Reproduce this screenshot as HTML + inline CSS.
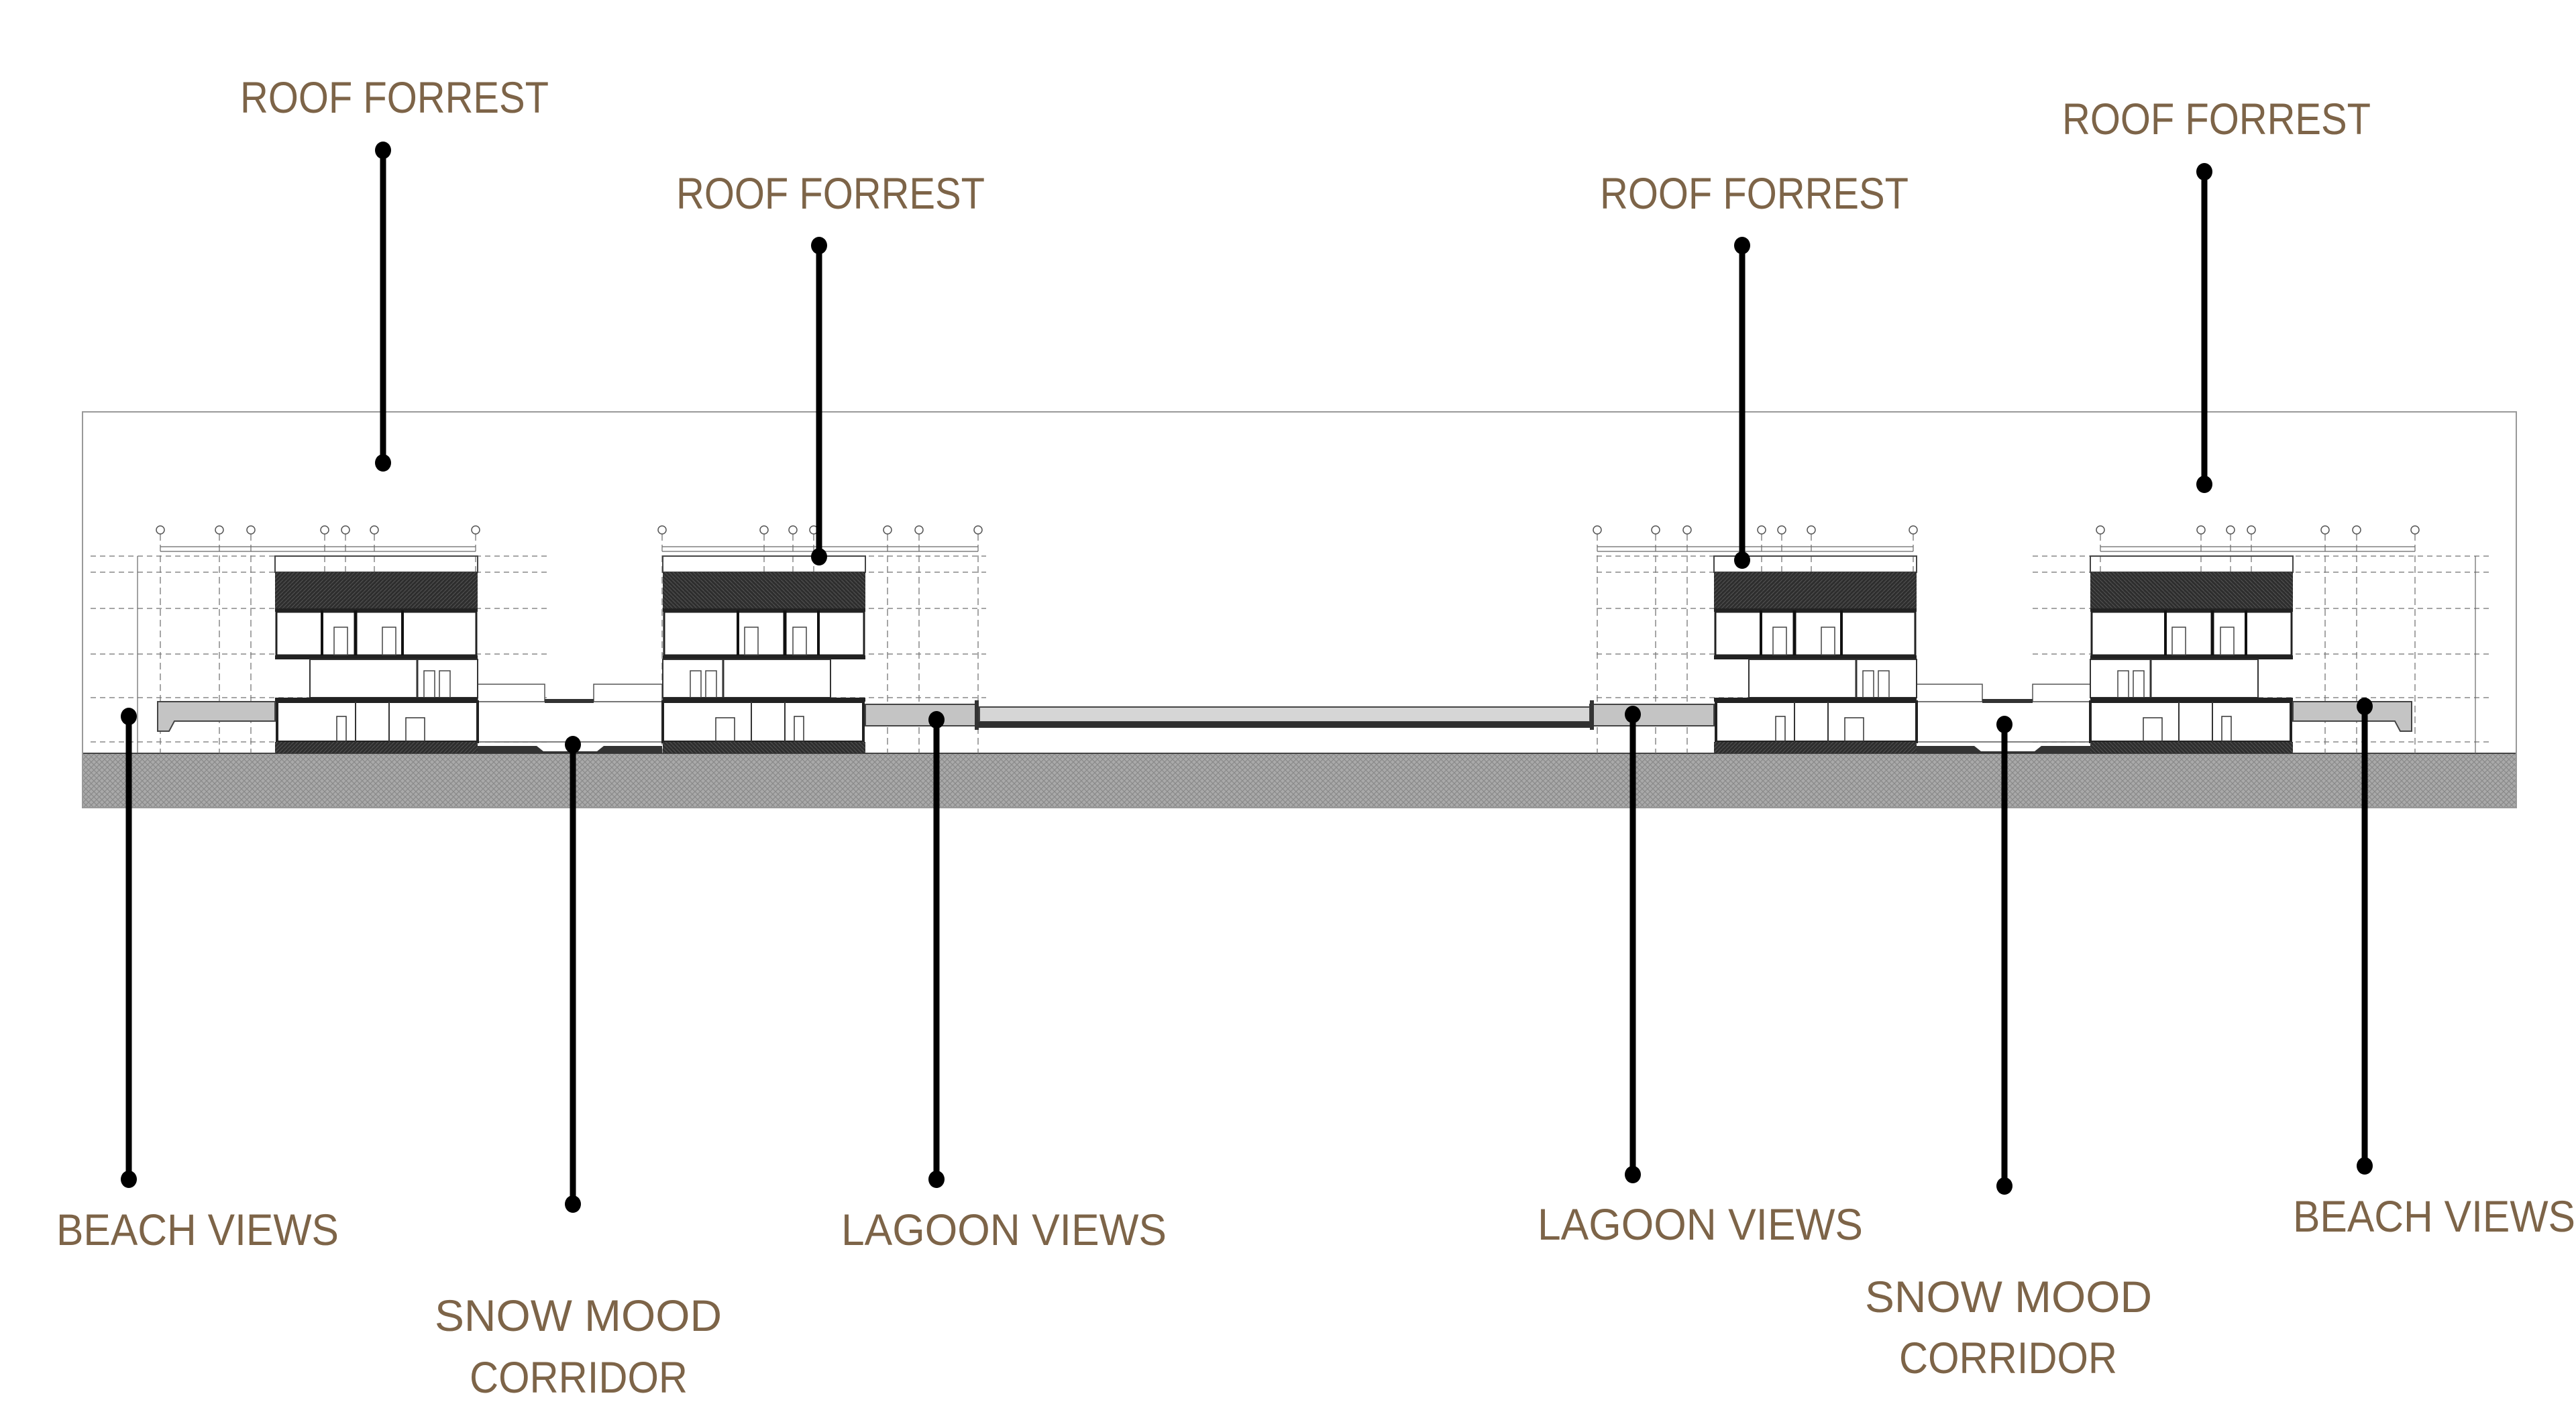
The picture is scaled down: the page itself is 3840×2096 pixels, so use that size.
<!DOCTYPE html>
<html><head><meta charset="utf-8"><style>
html,body{margin:0;padding:0;background:#fff;}
svg{display:block}
text{font-family:"Liberation Sans",sans-serif;font-size:66px;fill:#7d6448;}
</style></head><body>
<svg width="3840" height="2096" viewBox="0 0 3840 2096" xmlns="http://www.w3.org/2000/svg">
<defs>
<pattern id="hatch" width="8" height="8" patternUnits="userSpaceOnUse">
<rect width="8" height="8" fill="#a9a9a9"/>
<path d="M0 8L8 0M0 0L8 8" stroke="#8a8a8a" stroke-width="1.2"/>
</pattern>
<pattern id="dark" width="6" height="6" patternUnits="userSpaceOnUse">
<rect width="6" height="6" fill="#2e2e2e"/>
<path d="M0 6L6 0" stroke="#555" stroke-width="1"/>
</pattern>
<g id="bld">
<!-- parapet -->
<rect x="0" y="829" width="302" height="24" fill="none" stroke="#444" stroke-width="2"/>
<rect x="0" y="853" width="302" height="54" fill="url(#dark)"/>
<rect x="0" y="907" width="302" height="5" fill="#222"/>
<!-- upper floor -->
<rect x="2" y="912" width="298" height="65" fill="#fff" stroke="#222" stroke-width="3"/>
<line x1="70" y1="910" x2="70" y2="977" stroke="#111" stroke-width="4"/>
<line x1="120" y1="910" x2="120" y2="977" stroke="#111" stroke-width="5"/>
<line x1="190" y1="910" x2="190" y2="977" stroke="#111" stroke-width="4"/>
<rect x="88" y="935" width="20" height="42" fill="none" stroke="#444" stroke-width="1.5"/>
<rect x="160" y="935" width="20" height="42" fill="none" stroke="#444" stroke-width="1.5"/>
<rect x="0" y="977" width="302" height="6" fill="#222"/>
<!-- middle floor -->
<rect x="52" y="983" width="250" height="57" fill="#fff" stroke="#333" stroke-width="2"/>
<line x1="212" y1="983" x2="212" y2="1040" stroke="#333" stroke-width="3"/>
<rect x="222" y="1000" width="16" height="40" fill="none" stroke="#444" stroke-width="1.5"/>
<rect x="245" y="1000" width="16" height="40" fill="none" stroke="#444" stroke-width="1.5"/>
<rect x="0" y="1040" width="302" height="6" fill="#222"/>
<!-- ground floor -->
<rect x="3" y="1046" width="299" height="60" fill="#fff" stroke="#222" stroke-width="4"/>
<line x1="120" y1="1046" x2="120" y2="1106" stroke="#333" stroke-width="2"/>
<line x1="170" y1="1046" x2="170" y2="1106" stroke="#333" stroke-width="2"/>
<rect x="195" y="1070" width="28" height="36" fill="none" stroke="#333" stroke-width="1.5"/>
<rect x="92" y="1068" width="14" height="38" fill="none" stroke="#333" stroke-width="1.5"/>
<rect x="0" y="1106" width="302" height="17" fill="url(#dark)"/>
</g>
<g id="grid">
<g stroke="#555" stroke-width="1.3" fill="#fff">
<circle cx="0" cy="790" r="6"/>
</g>
</g>
</defs>

<!-- frame -->
<rect x="123" y="614" width="3628" height="590" fill="none" stroke="#999" stroke-width="2"/>
<!-- ground -->
<rect x="124" y="1123" width="3626" height="80" fill="url(#hatch)"/>
<line x1="124" y1="1123" x2="3750" y2="1123" stroke="#444" stroke-width="2"/>

<!-- level dashed lines -->
<g stroke="#888" stroke-width="1.5" stroke-dasharray="8 6">
<line x1="135" y1="829" x2="820" y2="829"/><line x1="135" y1="853" x2="820" y2="853"/>
<line x1="135" y1="907" x2="820" y2="907"/><line x1="135" y1="975" x2="820" y2="975"/>
<line x1="135" y1="1040" x2="820" y2="1040"/><line x1="135" y1="1106" x2="820" y2="1106"/>
<line x1="987" y1="829" x2="1470" y2="829"/><line x1="987" y1="853" x2="1470" y2="853"/>
<line x1="987" y1="907" x2="1470" y2="907"/><line x1="987" y1="975" x2="1470" y2="975"/>
<line x1="987" y1="1040" x2="1470" y2="1040"/>
<line x1="2380" y1="829" x2="2855" y2="829"/><line x1="2380" y1="853" x2="2855" y2="853"/>
<line x1="2380" y1="907" x2="2855" y2="907"/><line x1="2380" y1="975" x2="2855" y2="975"/>
<line x1="2380" y1="1040" x2="2855" y2="1040"/>
<line x1="3030" y1="829" x2="3710" y2="829"/><line x1="3030" y1="853" x2="3710" y2="853"/>
<line x1="3030" y1="907" x2="3710" y2="907"/><line x1="3030" y1="975" x2="3710" y2="975"/>
<line x1="3030" y1="1040" x2="3710" y2="1040"/><line x1="3030" y1="1106" x2="3710" y2="1106"/>
</g>
<!-- grid lines -->
<g stroke="#777" stroke-width="1.3" stroke-dasharray="10 6">
<line x1="239" y1="796" x2="239" y2="1123"/><line x1="327" y1="796" x2="327" y2="1123"/><line x1="374" y1="796" x2="374" y2="1123"/>
<line x1="484" y1="796" x2="484" y2="1123"/><line x1="515" y1="796" x2="515" y2="1123"/><line x1="558" y1="796" x2="558" y2="1123"/><line x1="709" y1="796" x2="709" y2="1123"/>
<line x1="987" y1="796" x2="987" y2="1123"/><line x1="1139" y1="796" x2="1139" y2="1123"/><line x1="1182" y1="796" x2="1182" y2="1123"/><line x1="1213" y1="796" x2="1213" y2="1123"/>
<line x1="1323" y1="796" x2="1323" y2="1123"/><line x1="1370" y1="796" x2="1370" y2="1123"/><line x1="1458" y1="796" x2="1458" y2="1123"/>
<line x1="2381" y1="796" x2="2381" y2="1123"/><line x1="2468" y1="796" x2="2468" y2="1123"/><line x1="2515" y1="796" x2="2515" y2="1123"/>
<line x1="2626" y1="796" x2="2626" y2="1123"/><line x1="2656" y1="796" x2="2656" y2="1123"/><line x1="2700" y1="796" x2="2700" y2="1123"/><line x1="2852" y1="796" x2="2852" y2="1123"/>
<line x1="3131" y1="796" x2="3131" y2="1123"/><line x1="3281" y1="796" x2="3281" y2="1123"/><line x1="3325" y1="796" x2="3325" y2="1123"/><line x1="3356" y1="796" x2="3356" y2="1123"/>
<line x1="3466" y1="796" x2="3466" y2="1123"/><line x1="3513" y1="796" x2="3513" y2="1123"/><line x1="3600" y1="796" x2="3600" y2="1123"/>
</g>
<g stroke="#555" stroke-width="1.5" fill="#fff">
<circle cx="239" cy="790" r="6"/><circle cx="327" cy="790" r="6"/><circle cx="374" cy="790" r="6"/><circle cx="484" cy="790" r="6"/><circle cx="515" cy="790" r="6"/><circle cx="558" cy="790" r="6"/><circle cx="709" cy="790" r="6"/>
<circle cx="987" cy="790" r="6"/><circle cx="1139" cy="790" r="6"/><circle cx="1182" cy="790" r="6"/><circle cx="1213" cy="790" r="6"/><circle cx="1323" cy="790" r="6"/><circle cx="1370" cy="790" r="6"/><circle cx="1458" cy="790" r="6"/>
<circle cx="2381" cy="790" r="6"/><circle cx="2468" cy="790" r="6"/><circle cx="2515" cy="790" r="6"/><circle cx="2626" cy="790" r="6"/><circle cx="2656" cy="790" r="6"/><circle cx="2700" cy="790" r="6"/><circle cx="2852" cy="790" r="6"/>
<circle cx="3131" cy="790" r="6"/><circle cx="3281" cy="790" r="6"/><circle cx="3325" cy="790" r="6"/><circle cx="3356" cy="790" r="6"/><circle cx="3466" cy="790" r="6"/><circle cx="3513" cy="790" r="6"/><circle cx="3600" cy="790" r="6"/>
</g>
<!-- dimension lines -->
<g stroke="#666" stroke-width="1.2">
<line x1="239" y1="815" x2="709" y2="815"/><line x1="239" y1="822" x2="709" y2="822"/>
<line x1="987" y1="815" x2="1458" y2="815"/><line x1="987" y1="822" x2="1458" y2="822"/>
<line x1="2381" y1="815" x2="2852" y2="815"/><line x1="2381" y1="822" x2="2852" y2="822"/>
<line x1="3131" y1="815" x2="3600" y2="815"/><line x1="3131" y1="822" x2="3600" y2="822"/>
<line x1="205" y1="829" x2="205" y2="1123"/><line x1="3690" y1="829" x2="3690" y2="1123"/>
</g>

<!-- terraces (grey) -->
<g fill="#c4c4c4" stroke="#444" stroke-width="2">
<path d="M235 1046 H410 V1075 H260 L252 1090 H235 Z"/>
<path d="M3418 1046 H3595 V1090 H3578 L3570 1075 H3418 Z"/>
<path d="M1290 1050 H1457 V1082 H1290 Z"/>
<path d="M2370 1050 H2555 V1082 H2370 Z"/>
</g>
<!-- snow corridor areas -->
<g fill="#fff" stroke="#555" stroke-width="1.5">
<rect x="712" y="1046" width="275" height="60"/>
<rect x="2855" y="1046" width="276" height="60"/>
<rect x="712" y="1020" width="100" height="26"/><rect x="885" y="1020" width="102" height="26"/>
<rect x="2855" y="1020" width="100" height="26"/><rect x="3030" y="1020" width="101" height="26"/>
</g>
<g fill="#333">
<rect x="812" y="1042" width="73" height="6"/><rect x="2955" y="1042" width="75" height="6"/>
<path d="M712 1112 H800 L810 1120 H890 L900 1112 H987 V1123 H712 Z"/>
<path d="M2855 1112 H2943 L2953 1120 H3033 L3043 1112 H3131 V1123 H2855 Z"/>
</g>

<!-- lagoon -->
<rect x="1460" y="1054" width="910" height="22" fill="#d6d6d6" stroke="#444" stroke-width="2"/>
<rect x="1455" y="1076" width="920" height="9" fill="#2f2f2f"/>
<rect x="1453" y="1044" width="6" height="44" fill="#333"/><rect x="2370" y="1044" width="6" height="44" fill="#333"/>

<!-- buildings -->
<use href="#bld" x="410" y="0"/>
<g transform="translate(1290,0) scale(-1,1)"><use href="#bld"/></g>
<use href="#bld" x="2555" y="0"/>
<g transform="translate(3418,0) scale(-1,1)"><use href="#bld"/></g>

<!-- leaders -->
<g stroke="#000" stroke-width="9">
<line x1="571" y1="222" x2="571" y2="692"/>
<line x1="1221" y1="364" x2="1221" y2="832"/>
<line x1="2597" y1="364" x2="2597" y2="837"/>
<line x1="3286" y1="254" x2="3286" y2="724"/>
<line x1="192" y1="1066" x2="192" y2="1760"/>
<line x1="854" y1="1108" x2="854" y2="1797"/>
<line x1="1396" y1="1071" x2="1396" y2="1760"/>
<line x1="2434" y1="1063" x2="2434" y2="1753"/>
<line x1="2988" y1="1078" x2="2988" y2="1770"/>
<line x1="3525" y1="1051" x2="3525" y2="1740"/>
</g>
<g fill="#000">
<ellipse cx="571" cy="224" rx="12" ry="13"/><ellipse cx="571" cy="690" rx="12" ry="13"/>
<ellipse cx="1221" cy="366" rx="12" ry="13"/><ellipse cx="1221" cy="830" rx="12" ry="13"/>
<ellipse cx="2597" cy="366" rx="12" ry="13"/><ellipse cx="2597" cy="835" rx="12" ry="13"/>
<ellipse cx="3286" cy="256" rx="12" ry="13"/><ellipse cx="3286" cy="722" rx="12" ry="13"/>
<ellipse cx="192" cy="1068" rx="12" ry="13"/><ellipse cx="192" cy="1758" rx="12" ry="13"/>
<ellipse cx="854" cy="1110" rx="12" ry="13"/><ellipse cx="854" cy="1795" rx="12" ry="13"/>
<ellipse cx="1396" cy="1073" rx="12" ry="13"/><ellipse cx="1396" cy="1758" rx="12" ry="13"/>
<ellipse cx="2434" cy="1065" rx="12" ry="13"/><ellipse cx="2434" cy="1751" rx="12" ry="13"/>
<ellipse cx="2988" cy="1080" rx="12" ry="13"/><ellipse cx="2988" cy="1768" rx="12" ry="13"/>
<ellipse cx="3525" cy="1053" rx="12" ry="13"/><ellipse cx="3525" cy="1738" rx="12" ry="13"/>
</g>

<!-- labels -->
<text x="358" y="168" textLength="460" lengthAdjust="spacingAndGlyphs">ROOF FORREST</text>
<text x="1008" y="311" textLength="460" lengthAdjust="spacingAndGlyphs">ROOF FORREST</text>
<text x="2385" y="311" textLength="460" lengthAdjust="spacingAndGlyphs">ROOF FORREST</text>
<text x="3074" y="200" textLength="460" lengthAdjust="spacingAndGlyphs">ROOF FORREST</text>
<text x="84" y="1856" textLength="421" lengthAdjust="spacingAndGlyphs">BEACH VIEWS</text>
<text x="1254" y="1856" textLength="485" lengthAdjust="spacingAndGlyphs">LAGOON VIEWS</text>
<text x="2292" y="1848" textLength="485" lengthAdjust="spacingAndGlyphs">LAGOON VIEWS</text>
<text x="3418" y="1836" textLength="421" lengthAdjust="spacingAndGlyphs">BEACH VIEWS</text>
<text x="648" y="1984" textLength="428" lengthAdjust="spacingAndGlyphs">SNOW MOOD</text>
<text x="700" y="2076" textLength="325" lengthAdjust="spacingAndGlyphs">CORRIDOR</text>
<text x="2780" y="1956" textLength="428" lengthAdjust="spacingAndGlyphs">SNOW MOOD</text>
<text x="2831" y="2047" textLength="325" lengthAdjust="spacingAndGlyphs">CORRIDOR</text>
</svg>
</body></html>
